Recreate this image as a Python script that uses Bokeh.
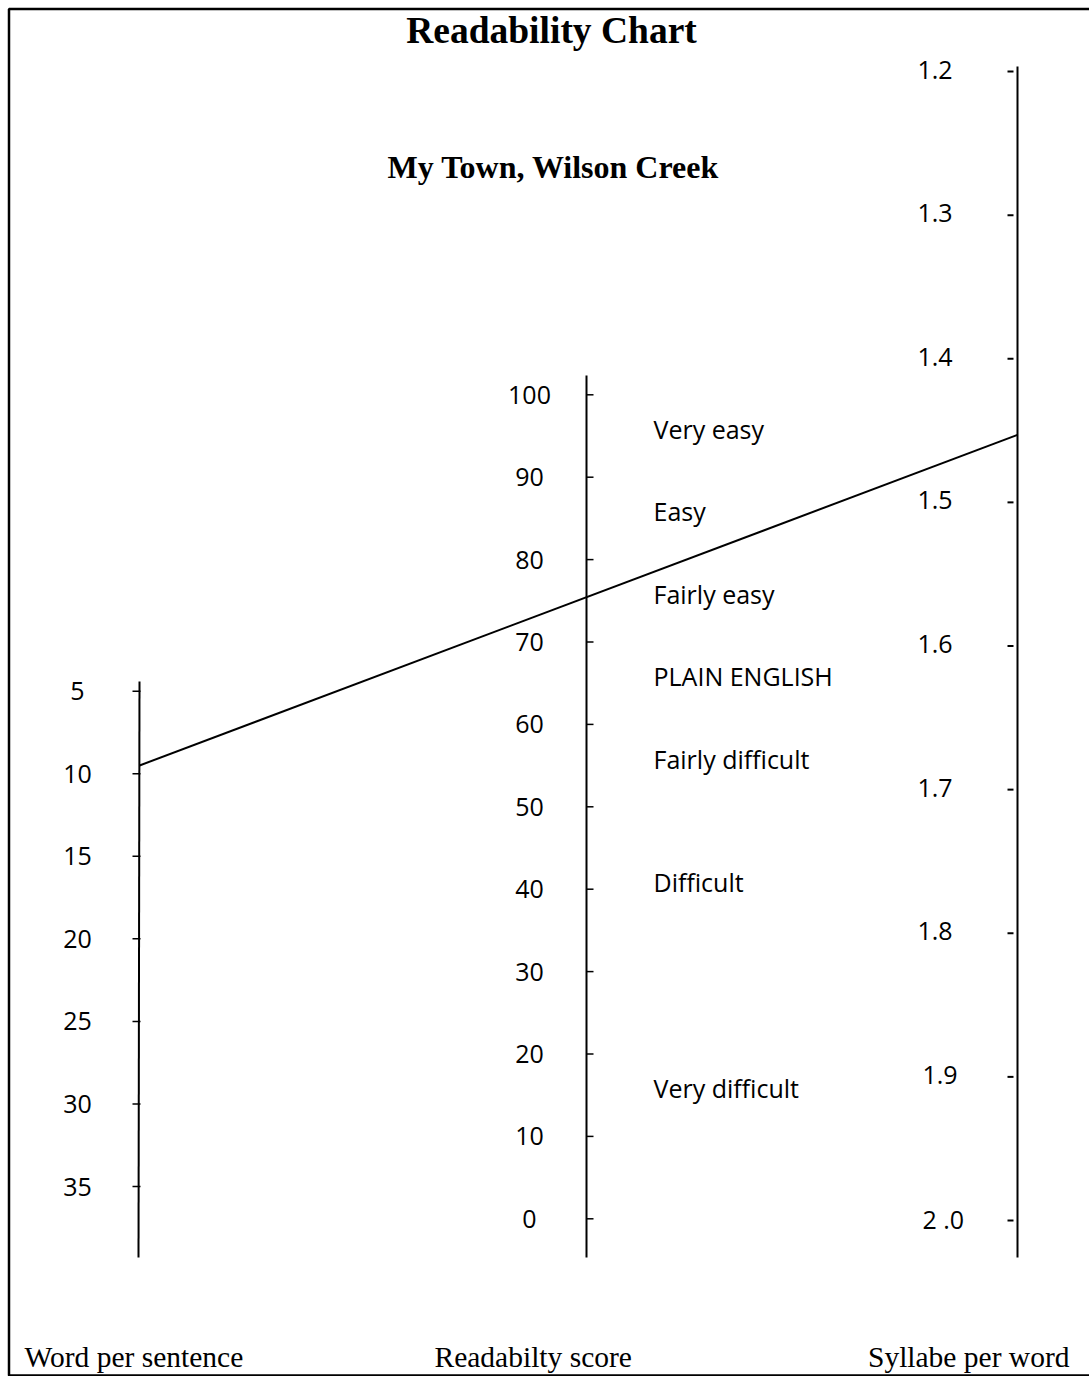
from bokeh.plotting import figure
from bokeh.models import Range1d, BoxAnnotation
from bokeh.core.properties import value
from bokeh.embed import file_html
from bokeh.resources import INLINE

# ---------------- data ----------------
title = "Readability Chart"
subtitle = "My Town, Wilson Creek"

wps_ticks = [5, 10, 15, 20, 25, 30, 35]
wps_labels = ["5", "10", "15", "20", "25", "30", "35"]

score_ticks = [100, 90, 80, 70, 60, 50, 40, 30, 20, 10, 0]
score_labels = ["100", "90", "80", "70", "60", "50", "40", "30", "20", "10", "0"]

spw_ticks = [1.2, 1.3, 1.4, 1.5, 1.6, 1.7, 1.8, 1.9, 2.0]
spw_labels = ["1.2", "1.3", "1.4", "1.5", "1.6", "1.7", "1.8", "1.9", "2 .0"]

band_names = ["Very easy", "Easy", "Fairly easy", "PLAIN ENGLISH",
              "Fairly difficult", "Difficult", "Very difficult"]
band_mid = [95, 85, 75, 65, 55, 40, 15]

axis_titles = ["Word per sentence", "Readabilty score", "Syllabe per word"]

# the sample text: words per sentence and syllables per word
sample_wps = 9.5
sample_spw = 1.453

# ---------------- layout ----------------
W, H = 1089, 1376
Y_TOP, Y_BOT = 0, H
X_L, X_R = 0, W

LEFT_X, MID_X, RIGHT_X = 139, 586, 1017
# pixel anchors of the first / last tick of each scale
WPS_ANCH = (5, 690.7, 35, 1186.0)
SCORE_ANCH = (100, 394.3, 0, 1218.3)
SPW_ANCH = (1.2, 71.0, 2.0, 1220.0)
SPW_LABEL_X = [917, 917, 917, 917, 917, 917, 917, 922, 922]


def make_range(anch):
    v0, p0, v1, p1 = anch
    k = (v1 - v0) / (p1 - p0)
    return Range1d(start=v0 + (Y_BOT - p0) * k, end=v0 + (Y_TOP - p0) * k)


def to_px(rng, v):
    frac = (v - rng.start) / (rng.end - rng.start)
    return Y_BOT + frac * (Y_TOP - Y_BOT)


p = figure(width=W, height=H, x_range=Range1d(X_L, X_R), y_range=Range1d(Y_BOT, Y_TOP),
           output_backend="svg", toolbar_location=None, min_border=0,
           x_axis_location=None, y_axis_location=None)
p.grid.visible = False
p.outline_line_color = None
p.background_fill_color = "white"
p.border_fill_color = "white"

r_wps = make_range(WPS_ANCH)
r_score = make_range(SCORE_ANCH)
r_spw = make_range(SPW_ANCH)
p.extra_y_ranges = {"wps": r_wps, "score": r_score, "spw": r_spw}

# frame border (right side lies outside the picture)
p.add_layout(BoxAnnotation(left=8.5, right=1100, top=8.5, bottom=1375, fill_alpha=0,
                           line_color="black", line_alpha=1.0, line_width=2.5))

SANS = value("Open Sans")
SERIF = value("Liberation Serif")
FS = "25px"

# axis lines
p.segment(x0=[LEFT_X, MID_X, RIGHT_X], x1=[LEFT_X - 1, MID_X, RIGHT_X],
          y0=[681, 375, 66], y1=[1257, 1257, 1257], line_color="black", line_width=2)

# left scale
p.segment(x0=[LEFT_X - 7] * len(wps_ticks), x1=[LEFT_X + 1] * len(wps_ticks),
          y0=wps_ticks, y1=wps_ticks, y_range_name="wps", line_color="black", line_width=1.5)
p.text(x=[77] * len(wps_ticks), y=wps_ticks, text=wps_labels, y_range_name="wps",
       text_font=SANS, text_font_size=FS, text_align="center", text_baseline="middle",
       text_color="black")

# middle scale
p.segment(x0=[MID_X] * len(score_ticks), x1=[MID_X + 7] * len(score_ticks),
          y0=score_ticks, y1=score_ticks, y_range_name="score", line_color="black", line_width=1.5)
p.text(x=[529] * len(score_ticks), y=score_ticks, text=score_labels, y_range_name="score",
       text_font=SANS, text_font_size=FS, text_align="center", text_baseline="middle",
       text_color="black")
p.text(x=[653] * len(band_names), y=band_mid, text=band_names, y_range_name="score",
       text_font=SANS, text_font_size=FS, text_align="left", text_baseline="middle",
       y_offset=-7, text_color="black")

# right scale
p.segment(x0=[RIGHT_X - 10] * len(spw_ticks), x1=[RIGHT_X - 4] * len(spw_ticks),
          y0=spw_ticks, y1=spw_ticks, y_range_name="spw", line_color="black", line_width=2)
p.text(x=SPW_LABEL_X, y=spw_ticks, text=spw_labels, y_range_name="spw",
       text_font=SANS, text_font_size=FS, text_align="left", text_baseline="middle",
       y_offset=-2, text_color="black")

# the reading line
p.line(x=[LEFT_X, RIGHT_X], y=[to_px(r_wps, sample_wps), to_px(r_spw, sample_spw)],
       line_color="black", line_width=2)

# titles
p.text(x=[551], y=[30], text=[title], text_font=SERIF, text_font_style="bold",
       text_font_size="37.5px", text_align="center", text_baseline="middle", text_color="black")
p.text(x=[553], y=[166], text=[subtitle], text_font=SERIF, text_font_style="bold",
       text_font_size="32px", text_align="center", text_baseline="middle", text_color="black")

# axis titles at the bottom
p.text(x=[24, 434, 1069], y=[1356] * 3, text=axis_titles, text_font=SERIF,
       text_font_size="29.5px", text_align=["left", "left", "right"],
       text_baseline="middle", text_color="black")

open("out.html", "w").write(file_html(p, INLINE))
